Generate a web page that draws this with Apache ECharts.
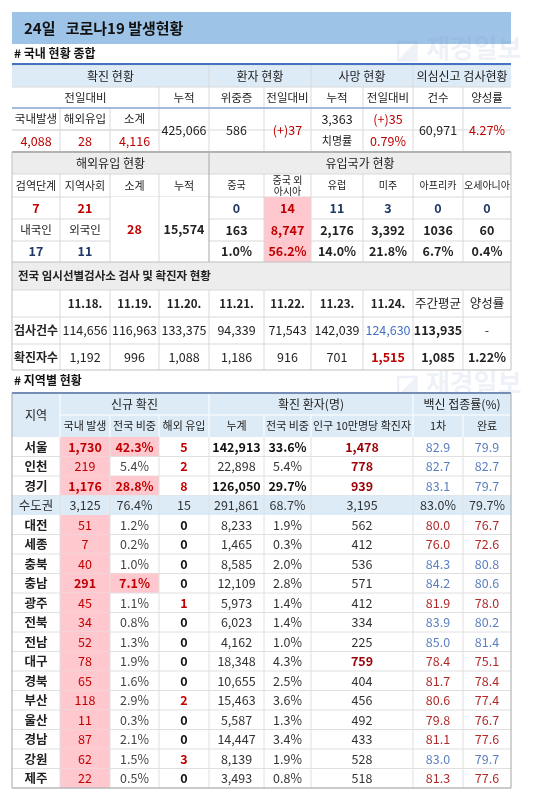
<!DOCTYPE html>
<html><head><meta charset="utf-8">
<script src="https://cdn.jsdelivr.net/npm/echarts@6/dist/echarts.min.js"></script>
<style>html,body{margin:0;padding:0;background:#fff}#c{width:550px;height:799px}</style>
</head><body><div id="c"></div>
<script>
// ---- data ----
const titleText = '24일   코로나19 발생현황';
const domestic = {newLocal:'4,088', newImport:'28', newSum:'4,116', cumulative:'425,066', critical:'586', criticalDiff:'(+)37', deaths:'3,363', deathDiff:'(+)35', fatality:'0.79%', tests:'60,971', positivity:'4.27%'};
const importStage = ['7','21'];
const importNation = ['17','11'];
const importSum = '28', importCum = '15,574';
const originNames = ['중국','중국 외\n아시아','유럽','미주','아프리카','오세아니아'];
const originToday = ['0','14','11','3','0','0'];
const originCum = ['163','8,747','2,176','3,392','1036','60'];
const originShare = ['1.0%','56.2%','14.0%','21.8%','6.7%','0.4%'];
const testDates = ['11.18.','11.19.','11.20.','11.21.','11.22.','11.23.','11.24.','주간평균','양성률'];
const testCounts = ['114,656','116,963','133,375','94,339','71,543','142,039','124,630','113,935','-'];
const testCases = ['1,192','996','1,088','1,186','916','701','1,515','1,085','1.22%'];
const regions = ['서울','인천','경기','수도권','대전','세종','충북','충남','광주','전북','전남','대구','경북','부산','울산','경남','강원','제주'];
const regLocal = ['1,730','219','1,176','3,125','51','7','40','291','45','34','52','78','65','118','11','87','62','22'];
const regLocalShare = ['42.3%','5.4%','28.8%','76.4%','1.2%','0.2%','1.0%','7.1%','1.1%','0.8%','1.3%','1.9%','1.6%','2.9%','0.3%','2.1%','1.5%','0.5%'];
const regImport = ['5','2','8','15','0','0','0','0','1','0','0','0','0','2','0','0','3','0'];
const regCum = ['142,913','22,898','126,050','291,861','8,233','1,465','8,585','12,109','5,973','6,023','4,162','18,348','10,655','15,463','5,587','14,447','8,139','3,493'];
const regCumShare = ['33.6%','5.4%','29.7%','68.7%','1.9%','0.3%','2.0%','2.8%','1.4%','1.4%','1.0%','4.3%','2.5%','3.6%','1.3%','3.4%','1.9%','0.8%'];
const regPer100k = ['1,478','778','939','3,195','562','412','536','571','412','334','225','759','404','456','492','433','528','518'];
const regVax1 = ['82.9','82.7','83.1','83.0%','80.0','76.0','84.3','84.2','81.9','83.9','85.0','78.4','81.7','80.6','79.8','81.1','83.0','81.3'];
const regVax2 = ['79.9','82.7','79.7','79.7%','76.7','72.6','80.8','80.6','78.0','80.2','81.4','75.1','78.4','77.4','76.7','77.6','79.7','77.6'];

// ---- layout ----
const X = [12,60,110,159,209,264,311,363,413,463,511];
const F = '"Noto Sans CJK KR","Noto Sans",sans-serif';
const RED='#c00000', DRED='#9c0006', PINK='#ffc7ce', LB='#ddebf7', GR='#ededed', DBLUE='#1f3864', TXT='#222';
const els = [];
function rect(x,y,w,h,fill,stroke,lw){els.push({type:'rect',shape:{x,y,width:w,height:h},style:{fill:fill||'none',stroke:stroke||null,lineWidth:lw||0},silent:true});}
function line(x1,y1,x2,y2,c,w){els.push({type:'line',shape:{x1,y1,x2,y2},style:{stroke:c,lineWidth:w||1},silent:true});}
function cell(c0,c1,y0,y1,text,o){o=o||{};
  const x0=X[c0],x1=X[c1];
  if(o.bg) rect(x0,y0,x1-x0,y1-y0,o.bg);
  if(text===''||text==null) return;
  const al=o.align||'center', s=o.size||12.5;
  els.push({type:'text',x:al==='left'?x0+6:(x0+x1)/2,y:(y0+y1)/2,silent:true,style:{text,fill:o.color||TXT,font:(o.bold?'bold ':'')+s+'px '+F,align:al,verticalAlign:'middle',lineHeight:s+1}});
}
// title
rect(12,12,499,32,'#9dc3e6');
els.push({type:'text',x:24,y:28,style:{text:titleText,font:'bold 15px '+F,fill:'#111',verticalAlign:'middle'}});
els.push({type:'text',x:14,y:53,style:{text:'# 국내 현황 종합',font:'bold 12px '+F,fill:'#111',verticalAlign:'middle'}});
[[395,48],[395,383]].forEach(p=>els.push({type:'text',x:p[0],y:p[1],style:{text:'◪ 재경일보',font:'bold 26px '+F,fill:'rgba(120,150,200,0.13)',verticalAlign:'middle'}}));
// section 1
const s1=[65,87,108,130,152];
rect(12,s1[0],499,22,LB);
for(let i=0;i<4;i++) line(X[0],s1[i],X[10],s1[i],'#d9d9d9');
[[0,4,'확진 현황'],[4,6,'환자 현황'],[6,8,'사망 현황'],[8,10,'의심신고 검사현황']].forEach(a=>cell(a[0],a[1],s1[0],s1[1],a[2],{size:12}));
[[0,3,'전일대비'],[3,4,'누적'],[4,5,'위중증'],[5,6,'전일대비'],[6,7,'누적'],[7,8,'전일대비'],[8,9,'건수'],[9,10,'양성률']].forEach(a=>cell(a[0],a[1],s1[1],s1[2],a[2],{size:11.5}));
cell(0,1,s1[2],s1[3],'국내발생',{size:11.5});cell(1,2,s1[2],s1[3],'해외유입',{size:11.5});cell(2,3,s1[2],s1[3],'소계',{size:11.5});
cell(0,1,s1[3],s1[4],domestic.newLocal,{color:RED});cell(1,2,s1[3],s1[4],domestic.newImport,{color:RED});cell(2,3,s1[3],s1[4],domestic.newSum,{color:RED});
cell(3,4,s1[2],s1[4],domestic.cumulative);cell(4,5,s1[2],s1[4],domestic.critical);cell(5,6,s1[2],s1[4],domestic.criticalDiff,{color:RED});
cell(6,7,s1[2],s1[3],domestic.deaths);cell(7,8,s1[2],s1[3],domestic.deathDiff,{color:RED});
cell(6,7,s1[3],s1[4],'치명률',{size:11});cell(7,8,s1[3],s1[4],domestic.fatality,{color:RED});
cell(8,9,s1[2],s1[4],domestic.tests);cell(9,10,s1[2],s1[4],domestic.positivity,{color:RED});
[[1,1],[2,1],[3,1],[4,0],[5,1],[6,0],[7,1],[8,0],[9,1]].forEach(v=>line(X[v[0]],s1[v[1]+(v[0]<3?1:0)],X[v[0]],s1[4],'#d9d9d9'));
line(X[0],s1[3],X[3],s1[3],'#d9d9d9');
line(X[0],64,X[10],64,'#4472c4',2);line(X[0],108,X[10],108,'#8eaadb',1.5);
// section 2
const s2=[152,174,197,219,241,262];
rect(12,s2[0],499,22,GR);
for(let i=1;i<5;i++) line(X[0],s2[i],X[10],s2[i],'#d9d9d9');
cell(0,4,s2[0],s2[1],'해외유입 현황',{size:12});cell(4,10,s2[0],s2[1],'유입국가 현황',{size:12});
['검역단계','지역사회','소계','누적'].forEach((t,i)=>cell(i,i+1,s2[1],s2[2],t,{size:11}));
originNames.forEach((t,i)=>cell(4+i,5+i,s2[1],s2[2],t,{size:10}));
importStage.forEach((t,i)=>cell(i,i+1,s2[2],s2[3],t,{color:RED,bold:true}));
cell(0,1,s2[3],s2[4],'내국인',{size:11.5});cell(1,2,s2[3],s2[4],'외국인',{size:11.5});
importNation.forEach((t,i)=>cell(i,i+1,s2[4],s2[5],t,{color:DBLUE,bold:true}));
rect(X[2],s2[2],X[4]-X[2],s2[5]-s2[2],'#fff');
cell(2,3,s2[2],s2[5],importSum,{color:RED,bold:true});cell(3,4,s2[2],s2[5],importCum,{bold:true});
originToday.forEach((t,i)=>cell(4+i,5+i,s2[2],s2[3],t,i===1?{bg:PINK,color:RED,bold:true}:{color:DBLUE,bold:true}));
originCum.forEach((t,i)=>cell(4+i,5+i,s2[3],s2[4],t,i===1?{bg:PINK,color:RED,bold:true}:{bold:true}));
originShare.forEach((t,i)=>cell(4+i,5+i,s2[4],s2[5],t,i===1?{bg:PINK,color:RED,bold:true}:{bold:true}));
for(let c=1;c<10;c++) if(c!==4) line(X[c],s2[1],X[c],s2[5],'#d9d9d9');
line(X[4],s2[0],X[4],s2[5],'#a6a6a6');
line(X[0],152,X[10],152,'#a6a6a6',2);
// section 3
const s3=[262,290,317,344,370];
rect(12,s3[0],499,28,GR);
line(X[0],s3[0],X[10],s3[0],'#bfbfbf');
cell(0,10,s3[0],s3[1],'전국 임시선별검사소 검사 및 확진자 현황',{align:'left',bold:true,size:11.5});
for(let i=1;i<4;i++) line(X[0],s3[i],X[10],s3[i],'#d9d9d9');
testDates.forEach((t,i)=>cell(1+i,2+i,s3[1],s3[2],t,{bold:i<7,size:i<7?11.5:12.5}));
cell(0,1,s3[2],s3[3],'검사건수',{bold:true,size:12});cell(0,1,s3[3],s3[4],'확진자수',{bold:true,size:12});
testCounts.forEach((t,i)=>cell(1+i,2+i,s3[2],s3[3],t,{color:i===6?'#4472c4':TXT,bold:i===7}));
testCases.forEach((t,i)=>cell(1+i,2+i,s3[3],s3[4],t,{color:i===6?RED:TXT,bold:i>=6}));
for(let c=1;c<10;c++) line(X[c],s3[1],X[c],s3[4],'#d9d9d9');
rect(12,152,499,218,null,'#bfbfbf',1);
// regional
els.push({type:'text',x:14,y:380,style:{text:'# 지역별 현황',font:'bold 12px '+F,fill:'#111',verticalAlign:'middle'}});
const h=[393,415,437];
rect(12,393,499,44,LB);
cell(0,1,h[0],h[2],'지역',{size:12});
cell(1,4,h[0],h[1],'신규 확진',{size:12});cell(4,8,h[0],h[1],'확진 환자(명)',{size:12});cell(8,10,h[0],h[1],'백신 접종률(%)',{size:12});
[[1,2,'국내 발생'],[2,3,'전국 비중'],[3,4,'해외 유입'],[4,5,'누계'],[5,6,'전국 비중'],[6,8,'인구 10만명당 확진자'],[8,9,'1차'],[9,10,'완료']].forEach(a=>cell(a[0],a[1],h[1],h[2],a[2],{size:11}));
line(X[1],h[1],X[10],h[1],'#fff');
[1,4,8].forEach(c=>line(X[c],h[0],X[c],h[2],'#fff'));
[2,3,5,6,9].forEach(c=>line(X[c],h[1],X[c],h[2],'#fff'));
const y0=437, rh=(788-437)/regions.length;
const hot=['서울','경기','충남'], big=['서울','경기'], hotRate=['서울','인천','경기','대구'];
regions.forEach((r,i)=>{
  const a=y0+i*rh,b=a+rh, cap=r==='수도권';
  if(cap){rect(X[0],a,X[10]-X[0],rh,LB);
    [r,regLocal[i],regLocalShare[i],regImport[i],regCum[i],regCumShare[i]].forEach((t,k)=>cell(k,k+1,a,b,t,{color:'#333'}));
    cell(6,8,a,b,regPer100k[i],{color:'#333'});cell(8,9,a,b,regVax1[i],{color:'#333'});cell(9,10,a,b,regVax2[i],{color:'#333'});return;}
  cell(0,1,a,b,r,{bold:true});
  cell(1,2,a,b,regLocal[i],{bg:PINK,color:RED,bold:hot.includes(r)});
  cell(2,3,a,b,regLocalShare[i],hot.includes(r)?{bg:PINK,color:RED,bold:true}:{color:'#444'});
  cell(3,4,a,b,regImport[i],{color:regImport[i]!=='0'?RED:'#111',bold:true});
  cell(4,5,a,b,regCum[i],{bold:big.includes(r),color:big.includes(r)?'#111':'#333'});
  cell(5,6,a,b,regCumShare[i],{bold:big.includes(r),color:big.includes(r)?'#111':'#333'});
  cell(6,8,a,b,regPer100k[i],hotRate.includes(r)?{color:DRED,bold:true}:{color:'#333'});
  const vc=parseFloat(regVax1[i])<82?'#b02a2a':'#5b7fbf';
  cell(8,9,a,b,regVax1[i],{color:vc});cell(9,10,a,b,regVax2[i],{color:vc});
  line(X[0],b,X[10],b,'#e0e0e0');
});
[1,2,3,4,5,6,8,9].forEach(c=>line(X[c],y0,X[c],788,'#e0e0e0'));
line(X[0],393,X[10],393,'#4472c4',2);
rect(12,393,499,395,null,'#a6a6a6',1);
const chart=echarts.init(document.getElementById('c'));
chart.setOption({animation:false,graphic:{elements:els}});
</script></body></html>
